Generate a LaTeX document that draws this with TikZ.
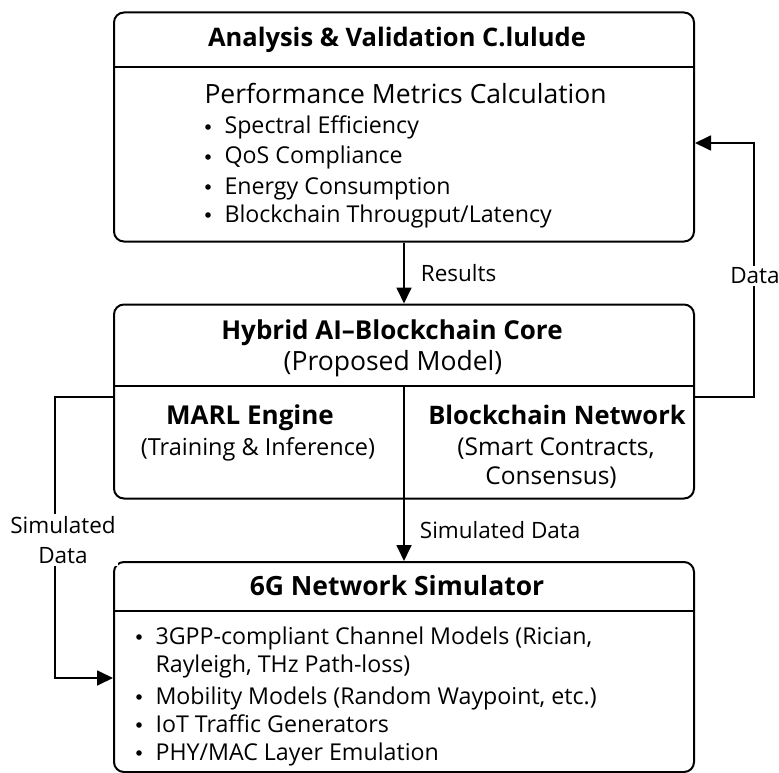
\documentclass[tikz,border=0pt]{standalone}
\usepackage{fontspec}
\setmainfont{Open Sans}
\usetikzlibrary{arrows.meta}
\tikzset{
  box/.style={draw, line width=2pt, rounded corners=10pt, minimum width=580pt, inner sep=0pt},
  head/.style={font=\fontsize{#1}{30}\selectfont\bfseries, text height=19pt, text depth=5pt},
  head/.default=25.5,
  txt/.style={font=\fontsize{#1}{30}\selectfont, text height=19pt, text depth=5pt},
  txt/.default=23.2,
  lbl/.style={font=\fontsize{22.5}{30}\selectfont, fill=white, inner sep=2pt, align=center},
  link/.style={line width=1.8pt, -{Triangle[length=16pt,width=15pt]}},
}
\newcommand{\entry}[4]{\fill (#2,#3) circle (2.8pt) node[txt,anchor=west,xshift=13pt] (#1) {#4}}

\begin{document}
\begin{tikzpicture}[x=1pt,y=-1pt]
	\useasboundingbox (0,0) rectangle (779,773);
	\node[box, minimum height=229pt] (ana) at (404,127) {};
	\node[box, minimum height=194pt] (core) at (404,401.5) {};
	\node[box, minimum height=210pt] (sim) at (404,667) {};
	\draw[line width=2pt] (114,67) -- (694,67);
	\draw[line width=2pt] (114,386) -- (694,386);
	\draw[line width=2pt] (404,386) -- (core.south);
	\draw[line width=2pt] (114,611) -- (694,611);

	\node[head] (anatitle) at (397,40) {Analysis \& Validation C.lulude};
	\node[txt=26.5, anchor=west] (perf) at (201,97) {Performance Metrics Calculation};
	\entry{spec}{208}{127}{Spectral Efficiency};
	\entry{qos}{208}{157}{QoS Compliance};
	\entry{energy}{208}{187}{Energy Consumption};
	\entry{tput}{208}{215}{Blockchain Througput/Latency};

	\node[head=26] (coretitle) at (392,332) {Hybrid AI–Blockchain Core};
	\node[txt=26.5] (coresub) at (393,363) {(Proposed Model)};
	\node[head=26] (marl) at (250,417) {MARL Engine};
	\node[txt=23.5] (marlsub) at (258,448) {(Training \& Inference)};
	\node[head] (bcn) at (557,417) {Blockchain Network};
	\node[txt=24.5] (bcnsub) at (556,448) {(Smart Contracts,};
	\node[txt=24.5] (bcnsub2) at (551,477) {Consensus)};

	\node[head=26.5] (simtitle) at (397,588) {6G Network Simulator};
	\entry{chan}{139}{637}{3GPP-compliant Channel Models (Rician,};
	\node[txt, anchor=west] (chan2) at (152,665) {Rayleigh, THz Path-loss)};
	\entry{mob}{139}{697}{Mobility Models (Random Waypoint, etc.)};
	\entry{iot}{139}{725}{IoT Traffic Generators};
	\entry{phy}{139}{753}{PHY/MAC Layer Emulation};

	\coordinate (dR) at (754,397);
	\coordinate (dT) at (754,143);
	\coordinate (sL) at (55,397);
	\coordinate (sB) at (55,678);
	\draw[link] (ana.south) -- (core.north) node[lbl, midway, right, xshift=14pt] (res) {Results};
	\draw[link] (core.south) -- (sim.north) node[lbl, midway, right, xshift=13pt] (simdata) {Simulated Data};
	\draw[link] (core.east |- dR) -- (dR) -- (dT) -- (ana.east |- dT);
	\draw[link] (core.west |- sL) -- (sL) -- (sB) -- (sim.west |- sB);
	\node[lbl] (dlab) at (755,276) {Data};
	\node[lbl] (slab) at (63,540) {Simulated\\Data};
\end{tikzpicture}
\end{document}
